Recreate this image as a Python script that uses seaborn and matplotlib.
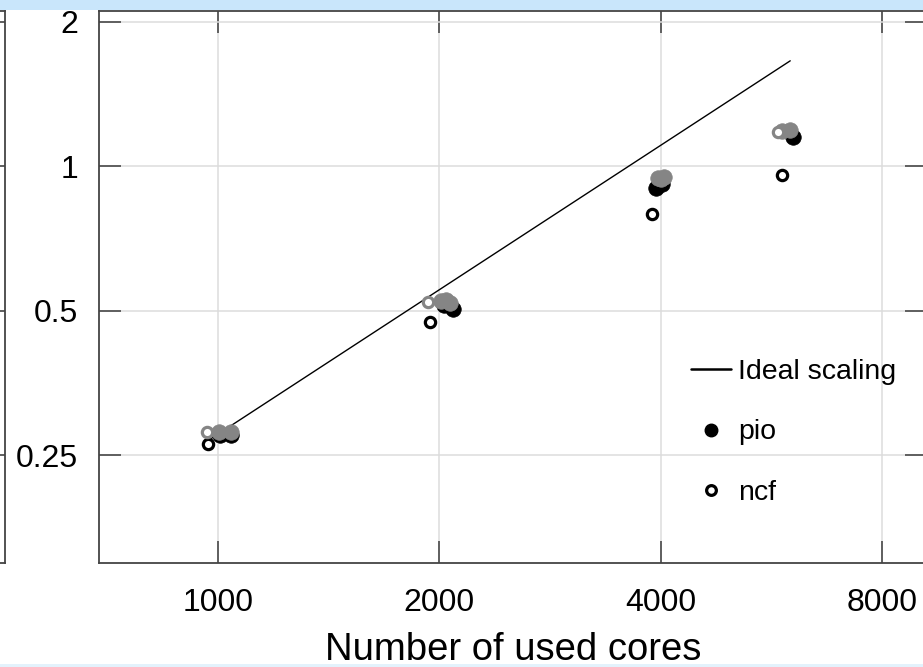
import matplotlib
matplotlib.use("Agg")
import matplotlib.pyplot as plt
from matplotlib.lines import Line2D
from matplotlib.patches import Rectangle
import numpy as np
import pandas as pd
import seaborn as sns

# ─── Data ─────────────────────────────────────────────────────────────────────
ideal_cores = [980, 6000]
ideal_time  = [0.271, 1.659]

pio_cores = [1005, 1040, 2030, 2085, 3940, 4010, 6050]
pio_time  = [0.276, 0.276, 0.515, 0.505, 0.902, 0.920, 1.150]

ncf_cores = [969, 1945, 3889, 5847]
ncf_time  = [0.264, 0.474, 0.794, 0.958]

pio2_cores = [1003, 1041, 2010, 2040, 2065, 3960, 4000, 4040, 5850, 6000]
pio2_time  = [0.279, 0.279, 0.525, 0.527, 0.520, 0.945, 0.940, 0.948, 1.185, 1.190]

ncf2_cores = [966, 1932, 5780]
ncf2_time  = [0.280, 0.522, 1.180]

x_ticks = [1000, 2000, 4000, 8000]
y_ticks = [0.25, 0.5, 1, 2]
y_tick_labels = ["0.25", "0.5", "1", "2"]

# ─── Style ────────────────────────────────────────────────────────────────────
sns.set_theme(style="white")
plt.rcParams["font.family"] = ["Liberation Sans", "DejaVu Sans"]
plt.rcParams["text.color"] = "black"
plt.rcParams["axes.labelcolor"] = "black"
plt.rcParams["xtick.labelcolor"] = "black"
plt.rcParams["ytick.labelcolor"] = "black"

GREY  = "#858585"
TICKC = "#555555"
GRIDC = "#dcdcdc"
BLUE  = "#c9e6fb"

fig = plt.figure(figsize=(9.23, 6.67), dpi=100, facecolor="white")

# slide bands
fig.patches.append(Rectangle((0, 1 - 10 / 667), 1, 10 / 667, transform=fig.transFigure,
                             facecolor=BLUE, edgecolor="none", zorder=0))
fig.patches.append(Rectangle((0, 0), 1, 3 / 667, transform=fig.transFigure,
                             facecolor="#e3f2fc", edgecolor="none", zorder=0))

ax_pos = [99 / 923, 1 - 563 / 667, (927 - 99) / 923, (563 - 11) / 667]


def style_axes(a):
    a.set_xscale("log", base=2)
    a.set_yscale("log", base=2)
    a.set_xlim(689, 9207)
    a.set_ylim(0.149, 2.107)
    a.set_xticks(x_ticks)
    a.set_yticks(y_ticks)
    a.minorticks_off()
    a.grid(True, color=GRIDC, linewidth=1.1, zorder=0)
    a.tick_params(which="major", direction="in", length=16, width=1.3, color=TICKC,
                  top=True, right=True, bottom=True, left=True)
    for sp in a.spines.values():
        sp.set_color("#444444")
        sp.set_linewidth(1.3)
    a.set_axisbelow(True)


# neighbouring panel, only its right edge shows
ax0 = fig.add_axes([5 / 923 - ax_pos[2], ax_pos[1], ax_pos[2], ax_pos[3]])
style_axes(ax0)
ax0.set_xticklabels([])
ax0.set_yticklabels([])

ax = fig.add_axes(ax_pos)
style_axes(ax)

ideal = pd.DataFrame({"cores": ideal_cores, "time": ideal_time})
pio   = pd.DataFrame({"cores": pio_cores, "time": pio_time})
ncf   = pd.DataFrame({"cores": ncf_cores, "time": ncf_time})
pio2  = pd.DataFrame({"cores": pio2_cores, "time": pio2_time})
ncf2  = pd.DataFrame({"cores": ncf2_cores, "time": ncf2_time})

sns.lineplot(data=ideal, x="cores", y="time", color="black", linewidth=1.0, ax=ax, zorder=2)
sns.scatterplot(data=ncf, x="cores", y="time", ax=ax, s=55, facecolor="white",
                edgecolor="black", linewidth=2.3, zorder=3)
sns.scatterplot(data=pio, x="cores", y="time", ax=ax, s=125, color="black",
                edgecolor="black", linewidth=0.5, zorder=4)
sns.scatterplot(data=pio2, x="cores", y="time", ax=ax, s=125, color=GREY,
                edgecolor=GREY, linewidth=0.5, zorder=5)
sns.scatterplot(data=ncf2, x="cores", y="time", ax=ax, s=55, facecolor="white",
                edgecolor=GREY, linewidth=2.3, zorder=5)

ax.set_xticklabels([str(v) for v in x_ticks], fontsize=23)
ax.set_yticklabels(y_tick_labels, fontsize=23)
ax.tick_params(axis="x", pad=18)
ax.tick_params(axis="y", pad=15)
ax.set_xlabel("Number of used cores", fontsize=27.5, labelpad=10)
ax.set_ylabel("")

handles = [
    Line2D([], [], color="black", linewidth=1.8),
    Line2D([], [], color="black", marker="o", linestyle="none", markersize=9),
    Line2D([], [], color="black", marker="o", linestyle="none", markersize=7,
           markerfacecolor="white", markeredgewidth=2.3),
]
ax.legend(handles, ["Ideal scaling", "pio", "ncf"], loc="upper left",
          bbox_to_anchor=(0.715, 0.369), borderaxespad=0, borderpad=0,
          frameon=False, fontsize=20.5,
          handlelength=1.4, handletextpad=0.25, labelspacing=1.2)

fig.savefig("out.png", dpi=100, facecolor=fig.get_facecolor())
